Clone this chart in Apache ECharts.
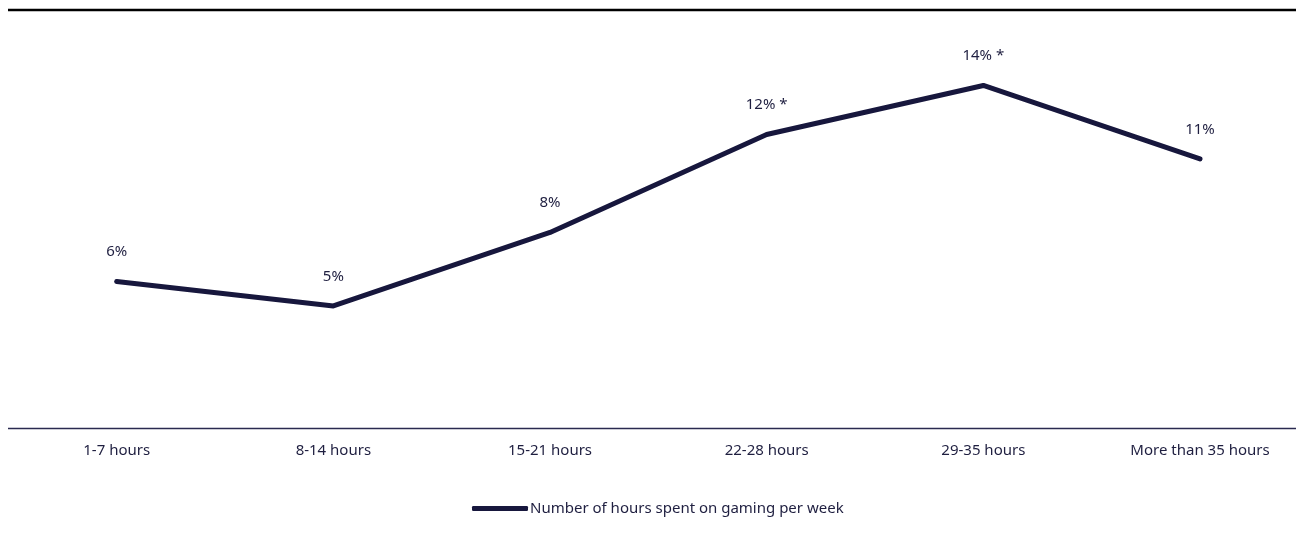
<!DOCTYPE html>
<html>
<head>
<meta charset="utf-8">
<script src="https://cdn.jsdelivr.net/npm/echarts@6/dist/echarts.min.js"></script>
<style>
  html, body { margin: 0; padding: 0; background: #fff; }
  #chart { width: 1296px; height: 539px; }
</style>
</head>
<body>
<div id="chart"></div>
<script>
const categories = ['1-7 hours', '8-14 hours', '15-21 hours', '22-28 hours', '29-35 hours', 'More than 35 hours'];
const shares = [6, 5, 8, 12, 14, 11];
const pointLabels = ['6%', '5%', '8%', '12% *', '14% *', '11%'];
const seriesName = 'Number of hours spent on gaming per week';

const navy = '#17173d';
const font = '"Noto Sans", sans-serif';

const chart = echarts.init(document.getElementById('chart'));
chart.setOption({
  animation: false,
  textStyle: { fontFamily: font },
  // first/last category centres sit at 116.7 and 1200 px
  grid: { left: 116.7, top: 10, right: 96, height: 418.5, containLabel: false },
  graphic: [
    {
      type: 'line',
      shape: { x1: 8, y1: 10, x2: 1296, y2: 10 },
      style: { stroke: '#000', lineWidth: 2.5 }
    },
    {
      type: 'line',
      shape: { x1: 8, y1: 428.5, x2: 1296, y2: 428.5 },
      style: { stroke: '#2a2a50', lineWidth: 1.5 }
    }
  ],
  legend: {
    left: 467,
    top: 496,
    itemWidth: 56,
    itemHeight: 5,
    textStyle: { fontSize: 15, color: '#1f1f40', fontFamily: font, padding: [0, 0, 0, -3] },
    data: [{ name: seriesName, icon: 'roundRect' }]
  },
  xAxis: {
    type: 'category',
    data: categories,
    boundaryGap: false,
    axisLine: { show: false },
    axisTick: { show: false },
    axisLabel: { color: '#1f1f40', fontSize: 15, margin: 15, interval: 0, fontFamily: font }
  },
  yAxis: {
    type: 'value',
    min: 0,
    max: 17.08,
    show: false,
    splitLine: { show: false }
  },
  series: [
    {
      name: seriesName,
      type: 'line',
      data: shares,
      symbol: 'circle',
      symbolSize: 4,
      lineStyle: { color: navy, width: 5, cap: 'round', join: 'round' },
      itemStyle: { color: navy },
      label: {
        show: true,
        position: 'top',
        distance: 20,
        color: '#1f1f40',
        fontSize: 15,
        fontFamily: font,
        formatter: (p) => pointLabels[p.dataIndex]
      }
    }
  ]
});
</script>
</body>
</html>
